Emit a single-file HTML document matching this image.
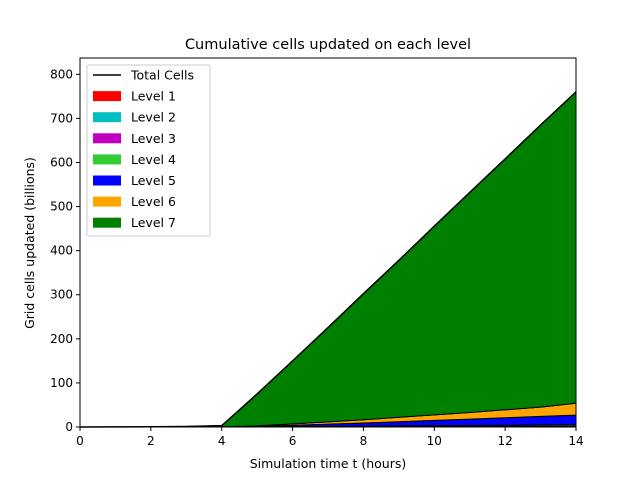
<!DOCTYPE html>
<html><head><meta charset="utf-8"><style>
body{margin:0;background:#fff;font-family:"Liberation Sans","DejaVu Sans",sans-serif}
</style></head><body>
<svg id="c" width="640" height="480" xmlns="http://www.w3.org/2000/svg" font-family="DejaVu Sans, Liberation Sans, sans-serif">
<rect width="640" height="480" fill="#fff"/>
<g id="plot"></g>
<text x="328" y="49" text-anchor="middle" font-size="14.5">Cumulative cells updated on each level</text>
<text x="328" y="468" text-anchor="middle" font-size="12.5">Simulation time t (hours)</text>
<text transform="translate(34,243) rotate(-90)" text-anchor="middle" font-size="12.5">Grid cells updated (billions)</text>
<g id="legend"></g>
</svg>
<script>
const hours=[0,1,2,3,4,5,6,7,8,9,10,11,12,13,14];
const level1=[0,0,0,0,0.01,0.05,0.1,0.15,0.2,0.25,0.3,0.35,0.4,0.45,0.5];
const level2=[0,0,0,0,0.01,0.05,0.1,0.15,0.2,0.25,0.3,0.35,0.4,0.45,0.5];
const level3=[0,0,0,0,0.02,0.1,0.2,0.3,0.4,0.5,0.6,0.7,0.8,0.9,1];
const level4=[0,0,0,0,0.05,0.3,0.6,0.9,1.2,1.5,1.8,2.1,2.4,2.7,3];
const level5=[0,0,0,0,0.1,1,3,5,7,9.5,12,14.5,17,19.5,22];
const level6=[0,0,0,0,0.1,1,3,5,7.5,10,12.5,15,18,21,27];
const level7=[0,0.2,0.5,1,2.7,72.5,143,214,286,356,428,499,569,640,706];
const xTicks=[0,2,4,6,8,10,12,14];
const yTicks=[0,100,200,300,400,500,600,700,800];
const X0=80,X1=576,Y0=427,Y1=58,XMAX=14,YMAX=837;
const sx=v=>X0+v/XMAX*(X1-X0), sy=v=>Y0-v/YMAX*(Y0-Y1);
const NS="http://www.w3.org/2000/svg";
const mk=(t,a,p)=>{const e=document.createElementNS(NS,t);for(const k in a)e.setAttribute(k,a[k]);p.appendChild(e);return e;};
const plot=document.getElementById('plot');
const levels=[level1,level2,level3,level4,level5,level6,level7];
const colors=['#ff0000','#00bfbf','#bf00bf','#32cd32','#0000ff','#ffa500','#008000'];
let base=hours.map(()=>0);
levels.forEach((lv,i)=>{
  const top=base.map((b,j)=>b+lv[j]);
  let pts=hours.map((h,j)=>sx(h)+','+sy(top[j]));
  pts=pts.concat(hours.slice().reverse().map((h,jj)=>{const j=hours.length-1-jj;return sx(h)+','+sy(base[j]);}));
  const p=mk('polygon',{points:pts.join(' '),fill:colors[i],stroke:'#000','stroke-width':1},plot);
  
  
  base=top;
});
const tl=mk('polyline',{points:hours.map((h,j)=>sx(h)+','+sy(base[j])).join(' '),fill:'none',stroke:'#000','stroke-width':1.5},plot);


const fr=mk('rect',{x:X0,y:Y1,width:X1-X0,height:Y0-Y1,fill:'none',stroke:'#000','stroke-width':1},plot);


xTicks.forEach(t=>{
  mk('line',{x1:sx(t),x2:sx(t),y1:Y0,y2:Y0+4,stroke:'#000'},plot);
  const tx=mk('text',{x:sx(t),y:Y0+18,'text-anchor':'middle','font-size':12},plot);
  tx.textContent=t;
  
  
});
yTicks.forEach(t=>{
  mk('line',{x1:X0-4,x2:X0,y1:sy(t),y2:sy(t),stroke:'#000'},plot);
  const tx=mk('text',{x:X0-7,y:sy(t)+4,'text-anchor':'end','font-size':12},plot);
  tx.textContent=t;
  
  
});
const lg=document.getElementById('legend');


mk('rect',{x:87,y:65,width:123,height:171,rx:2,fill:'#fff','fill-opacity':0.8,stroke:'#ccc'},lg);
const names=['Total Cells','Level 1','Level 2','Level 3','Level 4','Level 5','Level 6','Level 7'];
names.forEach((n,i)=>{
  const y=75+i*21.1;
  if(i===0)mk('line',{x1:93,x2:121,y1:y,y2:y,stroke:'#000','stroke-width':1.5},lg);
  else mk('rect',{x:93,y:y-5,width:28,height:10,fill:colors[i-1]},lg);
  const t=mk('text',{x:131,y:y+4.5,'font-size':12.5},lg);
  t.textContent=n;
  
  
});
</script>
</body></html>
